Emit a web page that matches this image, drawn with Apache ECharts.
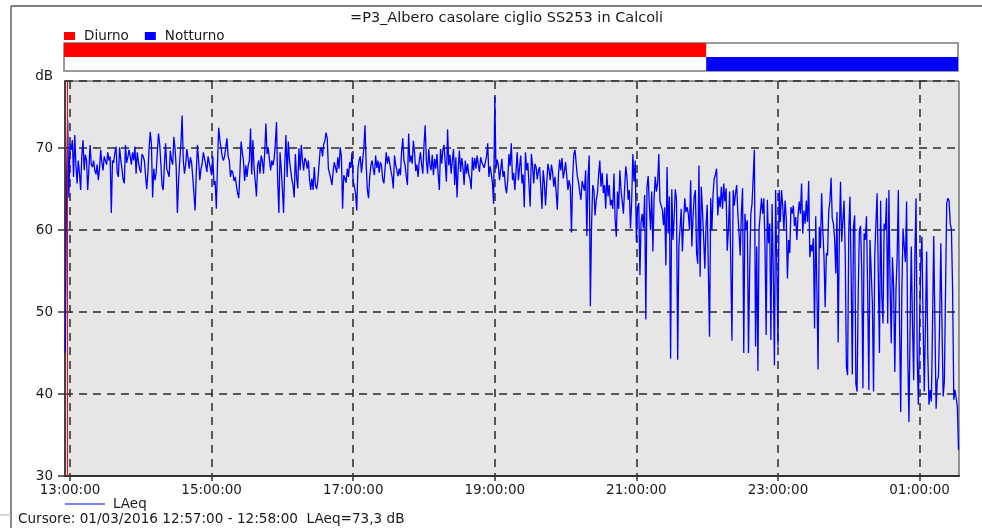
<!DOCTYPE html>
<html>
<head>
<meta charset="utf-8">
<script src="https://cdn.jsdelivr.net/npm/echarts@6/dist/echarts.min.js"></script>
<style>
  html, body { margin: 0; padding: 0; background: #ffffff; }
  #chart { width: 982px; height: 528px; }
</style>
</head>
<body>
<div id="chart"></div>
<script>
// ---- data ----------------------------------------------------------------
const chartTitle = '=P3_Albero casolare ciglio SS253 in Calcoli';
const cursorText = 'Cursore: 01/03/2016 12:57:00 - 12:58:00  LAeq=73,3 dB';
const seriesName = 'LAeq';
const unitName = 'dB';

// one LAeq reading per minute, first one at 12:56
const firstSample = '12:56:00';
const laeq1256 = [
  45, 65, 73.4, 64, 70.5, 69.8, 71, 66.5, 71.6, 68,
  65.7, 68.5, 67, 64.9, 69, 71, 67.3, 69.2, 68.5, 64.9,
  67.5, 70.4, 68, 67.7, 68.5, 67.3, 66.8, 68, 66.1, 67.5,
  69.8, 68.2, 67.3, 69, 68.8, 68, 69.5, 68.5, 69, 62.1,
  68.5, 68.2, 69.5, 70.2, 67, 66.5, 70.1, 68.6, 67.5, 66.2,
  65.7, 70.4, 68.2, 68.9, 69.8, 69, 68, 69.5, 68.5, 70.2,
  66.9, 69.5, 68.3, 67.5, 67, 69.3, 69, 68.5, 66.7, 65,
  67, 70, 72, 70.5, 64, 67.5, 66.1, 67, 69.5, 71.8,
  70.5, 68.1, 65.5, 64.9, 68, 70.6, 67.5, 67.5, 66.5, 69.7,
  68.5, 68, 71.4, 70, 67.6, 62.1, 66, 68.5, 70.5, 74,
  68.5, 66.9, 68, 69.9, 68.8, 67.5, 68.9, 68.3, 66.5, 64.5,
  62.4, 67, 70.4, 68.5, 66.1, 67.5, 68.1, 69.5, 69.5, 68,
  67.1, 69, 68.9, 67.5, 66.7, 69, 65.5, 66, 62.6, 68,
  72.5, 71, 70.9, 69, 68.5, 69, 68.9, 71.2, 69, 68.5,
  66.5, 67.3, 67, 66, 66.5, 65.5, 64.5, 63.9, 67, 70.8,
  69.5, 68.5, 66
];
const laeq1529 = [
  67.9, 66.5, 67.9, 68.5, 72.4, 66.8, 71, 67.5, 66, 64.1,
  67.9, 68.5, 66.9, 69.1, 68.5, 66.9, 69.5, 73, 69.3, 70,
  69.9, 67.3, 68.5, 67.9, 68.7, 70.5, 73.2, 66, 62.1, 69.5,
  67.5, 65, 62.1, 68, 71.6, 66.5, 70.8, 68.5, 68.5, 66.2,
  65.5, 64, 69.3, 66.5, 65.1, 70, 67.3, 70.4, 68.5, 67.3,
  68.8, 68.5, 67.5, 68.5, 66.2, 64.9, 66.3, 64.9, 67.7, 65.5,
  65, 66, 67.9, 69.8, 70.1, 69, 70.5, 70.9, 71.9, 71.2,
  67.5, 67.5, 66.3, 65.5, 67.2, 68.3, 68.5, 67, 68.9, 67.5,
  70.1, 69, 62.6, 66.7, 66.3, 65.8, 67.5, 66.5, 68.3, 67.6,
  69.5, 66, 65.3, 64.5, 62.4, 67.5, 68.5, 69, 67, 66.8,
  70, 72.8, 68, 64.9, 63.9, 66.5, 67.9, 68.5, 67.5, 66.7,
  69.1, 67.6, 68.5, 67, 68.3, 67.9, 66.2, 65.7, 67.5, 69.5,
  68.1, 69, 68.9, 67.2, 66.5, 65.1, 69.1, 68, 68.1, 66.6,
  67.5, 66.7, 69.5, 71.2, 68.5, 67.9, 66.5, 65.5, 71.8, 68.3,
  69.1, 68.1, 70.9, 69.5, 67.2, 68, 66.5, 68.5, 69.5, 68,
  66.9, 70.4
];
const laeq1801 = [
  72.8, 68.5, 66.9, 69.9, 68, 67.3, 69.2, 66.7, 68.7, 67.5,
  69.3, 66.8, 64.9, 69.9, 68.1, 69.8, 70.4, 68.2, 65.9, 72.3,
  67.9, 69.2, 66.9, 68.5, 69.9, 65.5, 68.9, 64, 67.6, 69.7,
  67.1, 68.8, 67.7, 65.5, 68.5, 66.9, 68.1, 66.7, 66.3, 65,
  68.9, 67.3, 68.8, 67.5, 69.1, 68, 67.1, 68.9, 68.3, 68.1,
  67.6, 68.3, 69, 70.6, 66.5, 67.8, 66.9, 65.8, 63.2, 76.3,
  67.5, 68.6, 67.9, 66.1, 67.4, 68.7, 66.5, 67.2, 65.3, 64.5,
  66.2, 69.3, 67.8, 70.6, 66.1, 67, 64.9, 67.2, 69.5, 66.1,
  67.7, 69.1, 65.7, 66.8, 62.8, 69.5, 67.3, 68.2, 65.5, 62.9,
  69.3, 67.9, 65.7, 68.1, 67.7, 66.2, 67.3, 67.7, 65.2, 62.6,
  67.3, 65.8, 63, 65.7, 68.1, 67.3, 66.1, 68, 67.1, 65.3,
  66.5, 64.6, 62.5, 66.9, 68.6, 67.3, 68.8, 66.3, 67.2, 68.3,
  66.6, 64.9, 66.1, 65.3, 59.7, 66.4, 69.3, 69.8, 68.1, 66.5,
  65.8, 64.6, 63.7, 66, 65.9, 64.8, 67.3, 59.3, 66.4, 69.1,
  50.7, 60.5, 65.5, 64.9, 61.8, 63.7, 64.5, 66.8, 68.5, 65.3,
  67, 64.5
];
const laeq2033 = [
  65.5, 62.6, 66.9, 64.1, 65.5, 63, 63.7, 62.6, 66.9, 61.2,
  59.2, 64.7, 62.6, 67.3, 64.9, 63.5, 62, 65, 67.8, 66.5,
  63.7, 64.9, 60.2, 63.5, 69.3, 65.9, 68.5, 58.6, 62.8, 63.3,
  54.5, 61, 62, 60.2, 64.3, 49.1, 65.3, 66.6, 63, 60,
  64.7, 57.4, 63.9, 66.5, 64.7, 65.8, 69.3, 63.5, 63.7, 62.5,
  60.6, 62.8, 55.7, 67.7, 59.6, 64.1, 44.3, 65, 58.8, 61.5,
  65, 63.7, 44.2, 58, 60.2, 62.6, 57.4, 61, 63.9, 62.2,
  62.8, 62, 60, 66.1, 58, 61.5, 64.1, 64.9, 57.2, 55.9,
  67.9, 54.3, 65.3, 62.4, 59, 55.3, 60.4, 63.1, 63.1, 47,
  63.9, 60, 64.5, 66.3, 66.8, 67.5, 61.8, 64.1, 62.8, 65.3,
  62.6, 65.7, 63.5, 65.1, 57.5, 60, 64.7, 64.5, 46.5, 64.9,
  63, 64.5, 65.5, 62, 59.6, 56.9, 62.2, 65.1, 45, 62,
  60, 61.2, 45, 55, 62, 63.2, 66.5, 69.8, 45.8, 58,
  42.8, 60.2, 62, 63.9, 62, 63.9, 58, 47.2, 63.7, 58.4,
  60.8, 46.6, 63.2, 55, 43.5, 64.9, 64.7, 45.8, 64.9, 61,
  64.9, 63
];
const laeq2305 = [
  60, 63.6, 61.5, 54.1, 58.8, 57.2, 62.8, 62, 63, 60.5,
  61.6, 58.8, 61.8, 63.5, 62, 65.7, 59.6, 62.4, 60.8, 63.6,
  61, 66, 56.7, 58.2, 57.4, 59, 48, 61.7, 52.7, 43,
  60.4, 57.8, 64.5, 60, 56.7, 50.6, 57.2, 56.9, 62.4, 63.5,
  66.4, 61.4, 60.8, 59, 54.7, 62.2, 46.3, 59.2, 65.9, 58.6,
  58.8, 63.6, 57, 43.3, 42.3, 60, 64.1, 54.7, 42.4, 60.4,
  61.8, 41.3, 40.3, 52.3, 60, 60.5, 55, 40.7, 59.6, 58.8,
  61.7, 52.7, 40.5, 58.8, 59, 51.1, 40.3, 56.7, 60.8, 64.5,
  54.7, 45, 63.6, 51.9, 48.6, 60.8, 60, 63.9, 48.6, 64.9,
  53.5, 46.2, 56.7, 53.1, 42.7, 52.7, 56.7, 64.9, 48.6, 37.8,
  52.7, 60.2, 58, 56.1, 63.5, 44.6, 36.6, 48.6, 58, 48.6,
  41.7, 56.7, 63.9, 44.6, 38.7, 48.6, 55.9, 59.2, 48.6, 40.3,
  48.6, 57.4, 44.6, 38.7, 40.5, 39.1, 48.6, 59.3, 48.6, 38.2,
  41.7, 42.1, 48.6, 58.4, 48.6, 39.7, 41.5, 41.5, 63.3, 63.9,
  63.6, 60.8, 60.1, 52.7, 39.3, 40.5, 40.5, 38.5, 33.2
];

// time axis
const axisFrom = '12:55:45';
const axisTo = '01:33:25';
const xTicks = ['13:00:00', '15:00:00', '17:00:00', '19:00:00', '21:00:00', '23:00:00', '01:00:00'];
const cursorAt = '12:57:30';

// reference periods
const periodNames = ['Diurno', 'Notturno'];
const periodFrom = ['12:55:00', '22:00:00'];
const periodTo = ['22:00:00', '01:34:00'];

// ---- helpers ---------------------------------------------------------------
// minutes from midnight of the first day; morning hours belong to the next day
function toMin(t) {
  const p = t.split(':').map(Number);
  let h = p[0];
  if (h < 12) h += 24;
  return h * 60 + p[1] + (p[2] || 0) / 60;
}
function fmtTime(m) {
  const total = Math.round(m * 60);
  const h = Math.floor(total / 3600) % 24;
  const mi = Math.floor(total / 60) % 60;
  const s = total % 60;
  const pad = (n) => String(n).padStart(2, '0');
  return pad(h) + ':' + pad(mi) + ':' + pad(s);
}

const laeq = [].concat(laeq1256, laeq1529, laeq1801, laeq2033, laeq2305);
const t0 = toMin(firstSample);
const lineData = laeq.map((v, i) => [t0 + i, v]);
const xMin = toMin(axisFrom);
const xMax = toMin(axisTo);
const tickValues = xTicks.map(toMin);

const FONT = 'DejaVu Sans';
const TEXT = '#1a1a1a';
const periodColors = ['#ff0000', '#0000ff'];

function periodSeries(k) {
  return {
    type: 'custom',
    name: periodNames[k],
    xAxisIndex: 1,
    yAxisIndex: 1,
    clip: true,
    silent: true,
    itemStyle: { color: periodColors[k] },
    encode: { x: [0, 1], y: 2 },
    data: [[toMin(periodFrom[k]), toMin(periodTo[k]), k]],
    renderItem(params, api) {
      const a = api.coord([api.value(0), api.value(2)]);
      const b = api.coord([api.value(1), api.value(2)]);
      const h = api.size([0, 1])[1];
      const cs = params.coordSys;
      const rect = echarts.graphic.clipRectByRect(
        { x: a[0], y: a[1] - h / 2, width: b[0] - a[0], height: h },
        { x: cs.x, y: cs.y, width: cs.width, height: cs.height }
      );
      return rect && { type: 'rect', shape: rect, style: api.style() };
    }
  };
}

const chart = echarts.init(document.getElementById('chart'), null, { renderer: 'canvas' });

chart.setOption({
  animation: false,
  backgroundColor: '#ffffff',
  textStyle: { fontFamily: FONT, color: TEXT },
  title: {
    text: chartTitle,
    left: 345,
    top: 6,
    textStyle: { fontFamily: FONT, fontSize: 14.5, fontWeight: 'normal', color: TEXT }
  },
  legend: [
    {
      data: periodNames,
      left: 64,
      top: 29,
      icon: 'rect',
      itemWidth: 11,
      itemHeight: 8,
      itemGap: 16,
      padding: 0,
      selectedMode: false,
      textStyle: { fontFamily: FONT, fontSize: 13.5, color: TEXT, padding: [0, 0, 0, 4] }
    },
    {
      data: [seriesName],
      left: 65,
      top: 497,
      icon: 'rect',
      itemWidth: 40,
      itemHeight: 1,
      padding: 0,
      selectedMode: false,
      textStyle: { fontFamily: FONT, fontSize: 13.5, color: TEXT, padding: [0, 0, 0, 3] }
    }
  ],
  grid: [
    {
      left: 65, right: 23, top: 81, bottom: 52,
      show: true,
      backgroundColor: '#e6e6e6',
      borderColor: '#333333',
      borderWidth: 1
    },
    {
      left: 64, right: 24, top: 43, height: 28,
      show: true,
      backgroundColor: '#ffffff',
      borderColor: '#7a7a7a',
      borderWidth: 1.5
    }
  ],
  xAxis: [
    {
      type: 'value',
      gridIndex: 0,
      min: xMin,
      max: xMax,
      axisLine: { show: true, onZero: false, lineStyle: { color: '#333333', width: 2 } },
      axisTick: { show: true, length: 5, customValues: tickValues, lineStyle: { color: '#333333', width: 1.5 } },
      axisLabel: {
        customValues: tickValues,
        margin: 7,
        fontFamily: FONT, fontSize: 13.5, color: TEXT,
        formatter: (v) => fmtTime(v)
      },
      splitLine: { show: true, lineStyle: { color: '#2a2a2a', width: 1.5, type: [8, 6] } }
    },
    {
      type: 'value',
      gridIndex: 1,
      min: xMin,
      max: xMax,
      show: false
    }
  ],
  yAxis: [
    {
      type: 'value',
      gridIndex: 0,
      min: 30,
      max: 78.2,
      interval: 10,
      name: unitName,
      nameLocation: 'end',
      nameGap: 5,
      nameTextStyle: { fontFamily: FONT, fontSize: 13.5, color: TEXT, align: 'right', verticalAlign: 'middle', padding: [0, 12, 0, 0] },
      axisLine: { show: true, lineStyle: { color: '#444444', width: 2 } },
      axisTick: { show: true, length: 7, lineStyle: { color: '#333333', width: 1.5 } },
      axisLabel: { margin: 12, fontFamily: FONT, fontSize: 13.5, color: TEXT, showMaxLabel: false },
      splitLine: { show: true, lineStyle: { color: '#2a2a2a', width: 1.5, type: [8, 6] } }
    },
    {
      type: 'category',
      gridIndex: 1,
      data: periodNames,
      inverse: true,
      show: false
    }
  ],
  series: [
    {
      type: 'line',
      name: seriesName,
      xAxisIndex: 0,
      yAxisIndex: 0,
      data: lineData,
      showSymbol: false,
      symbol: 'none',
      sampling: false,
      color: '#0000ff',
      lineStyle: { color: '#0000ff', width: 1.3 },
      z: 3,
      markLine: {
        silent: true,
        symbol: 'none',
        label: { show: false },
        lineStyle: { color: '#ff0000', width: 1, type: 'solid' },
        data: [{ xAxis: toMin(cursorAt) }]
      }
    },
    periodSeries(0),
    periodSeries(1)
  ],
  graphic: [
    { type: 'line', shape: { x1: 11, y1: 6, x2: 11, y2: 528 }, style: { stroke: '#8a8a8a', lineWidth: 2 } },
    { type: 'line', shape: { x1: 11, y1: 6, x2: 982, y2: 6 }, style: { stroke: '#555555', lineWidth: 1.5 } },
    { type: 'line', shape: { x1: 0, y1: 515, x2: 11, y2: 515 }, style: { stroke: '#b0b0b0', lineWidth: 1 } },
    {
      type: 'text', left: 18, top: 512,
      style: { text: cursorText, fontFamily: FONT, fontSize: 13.6, fill: TEXT }
    }
  ]
});
</script>
</body>
</html>
